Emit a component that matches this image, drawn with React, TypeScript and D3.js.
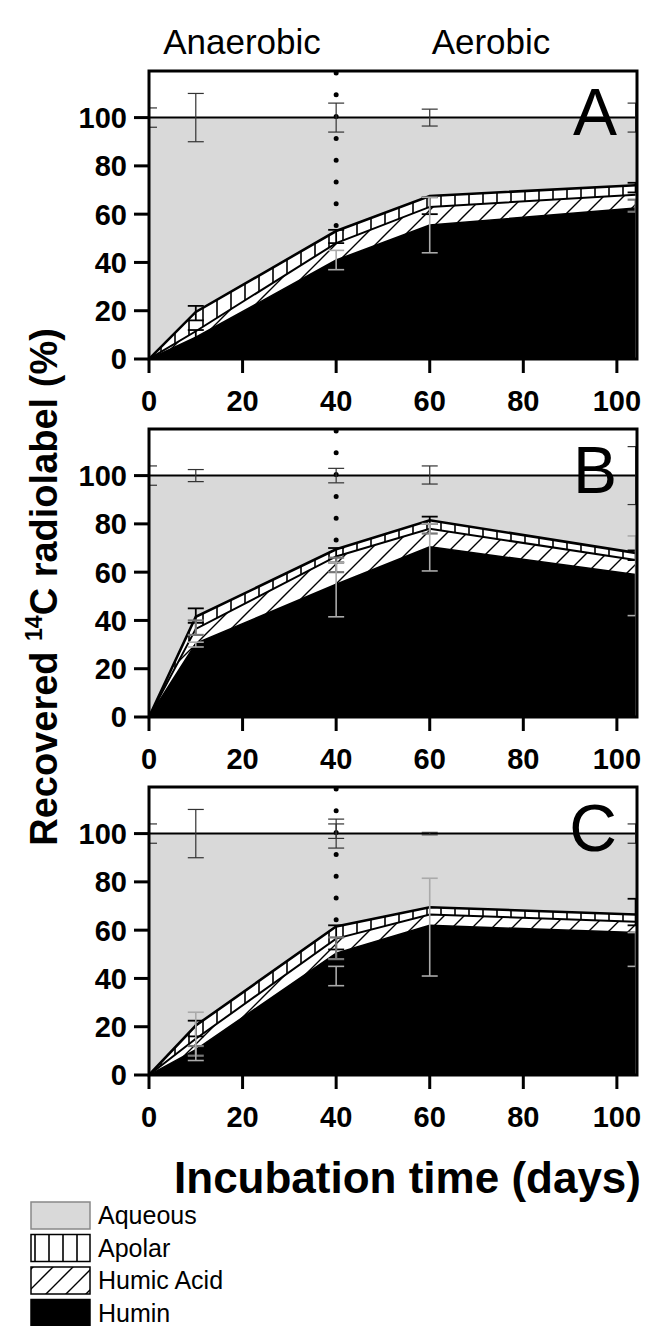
import React, { useRef, useEffect } from "react";
import * as d3 from "d3";

// sampling days (last one sits on the right frame edge)
const days = [0, 10, 40, 60, 104];
const panelNames = ["A", "B", "C"];
const xTicks = [0, 20, 40, 60, 80, 100];
const yTicks = [0, 20, 40, 60, 80, 100];
const legendNames = ["Aqueous", "Apolar", "Humic Acid", "Humin"];

// cumulative tops of each fraction (% of recovered label)
const huminA = [0, 9, 41, 55.5, 62.5];
const humicA = [0, 11.5, 48, 63, 68];
const apolarA = [0, 19.5, 53, 67.5, 72];

const huminB = [0, 30.5, 55, 70.5, 59];
const humicB = [0, 36.5, 66.5, 78, 65];
const apolarB = [0, 41.5, 69.5, 81.5, 68];

const huminC = [0, 10.5, 50.5, 62, 59];
const humicC = [0, 15, 56.5, 66.5, 63.5];
const apolarC = [0, 20.5, 61.5, 69.5, 66.5];

// error bars: [day, low, high, tone]  tone 0 = total, 1 = apolar, 2 = humic, 3 = humin
const errA = [
  [0, 96, 104, 0], [10, 90, 110, 0], [40, 94, 106, 0], [60, 96.5, 103.5, 0], [104, 94, 106, 0],
  [10, 16, 22, 1], [40, 48, 53.5, 1], [60, 60, 67, 1], [104, 69, 73, 1],
  [10, 5.5, 12, 1], [40, 37, 45, 3], [60, 44, 67, 3], [104, 61, 66, 2],
];
const errB = [
  [0, 96, 104, 0], [10, 97.5, 102.5, 0], [40, 97, 103, 0], [60, 96.5, 104, 0], [104, 88, 112, 0],
  [10, 39, 45, 1], [40, 64, 70, 1], [60, 80, 83, 1], [104, 65, 69, 1],
  [10, 34, 40, 2], [40, 60, 66, 2], [60, 76, 80, 2],
  [10, 29, 31, 3], [40, 41.5, 64, 3], [60, 60.5, 80, 3], [104, 42, 75, 3],
];
const errC = [
  [0, 96, 104, 0], [10, 90, 110, 0], [40, 94, 106, 0], [40, 98, 104, 0], [60, 99.5, 100.5, 0], [104, 96, 104, 0],
  [10, 16, 22.5, 1], [40, 52, 62, 1], [104, 62, 73, 1],
  [10, 8, 12, 2], [40, 48, 57, 2],
  [10, 6, 26, 3], [40, 37, 45, 3], [60, 41, 81.5, 3], [104, 45, 59, 3],
];

const panels = [
  { humin: huminA, humic: humicA, apolar: apolarA, err: errA },
  { humin: huminB, humic: humicB, apolar: apolarB, err: errB },
  { humin: huminC, humic: humicC, apolar: apolarC, err: errC },
];

const W = 646;
const H = 1326;
const left = 149;
const right = 637;
const firstTop = 71;
const panelStep = 358;
const plotH = 288;
const FONT = "'Liberation Sans', Arial, sans-serif";
const GREY = "#d9d9d9";
const toneColor = ["#333", "#000", "#777", "#aaa"];
const toneWidth = [1.2, 1.8, 2.2, 1.6];

function App() {
  const svgRef = useRef(null);

  useEffect(() => {
    const svg = d3.select(svgRef.current);
    svg.selectAll("*").remove();

    const defs = svg.append("defs");
    const vert = defs.append("pattern").attr("id", "vhatch")
      .attr("patternUnits", "userSpaceOnUse").attr("width", 14).attr("height", 14);
    vert.append("rect").attr("width", 14).attr("height", 14).attr("fill", "#fff");
    vert.append("line").attr("x1", 7).attr("x2", 7).attr("y1", 0).attr("y2", 14)
      .attr("stroke", "#000").attr("stroke-width", 1.6);
    const diag = defs.append("pattern").attr("id", "dhatch")
      .attr("patternUnits", "userSpaceOnUse").attr("width", 20).attr("height", 20);
    diag.append("rect").attr("width", 20).attr("height", 20).attr("fill", "#fff");
    diag.append("path").attr("d", "M-5,5 L5,-5 M0,20 L20,0 M15,25 L25,15")
      .attr("stroke", "#000").attr("stroke-width", 1.4);

    const x = d3.scaleLinear().domain([0, 104.3]).range([left, right]);

    panels.forEach((p, i) => {
      const top = firstTop + i * panelStep;
      const y = d3.scaleLinear().domain([0, 119.3]).range([top + plotH, top]);
      const g = svg.append("g");

      defs.append("clipPath").attr("id", `clip${i}`)
        .append("rect").attr("x", left).attr("y", top)
        .attr("width", right - left).attr("height", plotH);
      const plot = g.append("g").attr("clip-path", `url(#clip${i})`);

      plot.append("rect").attr("x", left).attr("y", top)
        .attr("width", right - left).attr("height", plotH).attr("fill", "#fff");
      plot.append("rect").attr("x", left).attr("y", y(100))
        .attr("width", right - left).attr("height", y(0) - y(100)).attr("fill", GREY);

      const rows = days.map((d, k) => ({ d, hu: p.humin[k], ha: p.humic[k], ap: p.apolar[k] }));
      const band = (lo, hi) =>
        d3.area().x(r => x(r.d)).y0(r => y(lo(r))).y1(r => y(hi(r)))(rows);
      const edge = f => d3.line().x(r => x(r.d)).y(r => y(f(r)))(rows);

      plot.append("path").attr("d", band(() => 0, r => r.hu)).attr("fill", "#000");
      plot.append("path").attr("d", band(r => r.hu, r => r.ha)).attr("fill", "url(#dhatch)");
      plot.append("path").attr("d", band(r => r.ha, r => r.ap)).attr("fill", "url(#vhatch)");
      plot.append("path").attr("d", edge(r => r.hu)).attr("fill", "none").attr("stroke", "#000").attr("stroke-width", 1.5);
      plot.append("path").attr("d", edge(r => r.ha)).attr("fill", "none").attr("stroke", "#000").attr("stroke-width", 2);
      plot.append("path").attr("d", edge(r => r.ap)).attr("fill", "none").attr("stroke", "#000").attr("stroke-width", 2.6);

      plot.append("line").attr("x1", left).attr("x2", right)
        .attr("y1", y(100)).attr("y2", y(100)).attr("stroke", "#000").attr("stroke-width", 2);

      // dotted phase divider at day 40
      const k40 = days.indexOf(40);
      plot.append("line").attr("x1", x(40)).attr("x2", x(40))
        .attr("y1", top + 2).attr("y2", y(p.humic[k40]))
        .attr("stroke", "#000").attr("stroke-width", 5)
        .attr("stroke-linecap", "round").attr("stroke-dasharray", "0 21.8");

      // error bars
      p.err.forEach(([d, lo, hi, t]) => {
        const eg = plot.append("g").attr("stroke", toneColor[t]).attr("stroke-width", toneWidth[t]);
        const cx = x(d);
        eg.append("line").attr("x1", cx).attr("x2", cx).attr("y1", y(lo)).attr("y2", y(hi));
        [lo, hi].forEach(v => eg.append("line").attr("x1", cx - 8).attr("x2", cx + 8)
          .attr("y1", y(v)).attr("y2", y(v)));
      });

      // frame
      g.append("rect").attr("x", left).attr("y", top).attr("width", right - left)
        .attr("height", plotH).attr("fill", "none").attr("stroke", "#000").attr("stroke-width", 3);

      // y axis
      yTicks.forEach(v => {
        g.append("line").attr("x1", left - 15).attr("x2", left).attr("y1", y(v)).attr("y2", y(v))
          .attr("stroke", "#000").attr("stroke-width", 3);
        g.append("text").attr("x", left - 22).attr("y", y(v)).attr("dy", "0.36em")
          .attr("text-anchor", "end").attr("font-family", FONT).attr("font-weight", "bold")
          .attr("font-size", 29).text(v);
      });
      // x axis
      xTicks.forEach(v => {
        g.append("line").attr("x1", x(v)).attr("x2", x(v)).attr("y1", top + plotH).attr("y2", top + plotH + 14)
          .attr("stroke", "#000").attr("stroke-width", 3);
        g.append("text").attr("x", x(v)).attr("y", top + plotH + 52)
          .attr("text-anchor", "middle").attr("font-family", FONT).attr("font-weight", "bold")
          .attr("font-size", 29).text(v);
      });

      g.append("text").attr("x", 617).attr("y", top + 64).attr("text-anchor", "end")
        .attr("font-family", FONT).attr("font-size", 66).text(panelNames[i]);
    });

    // phase labels
    svg.append("text").attr("x", 242).attr("y", 54).attr("text-anchor", "middle")
      .attr("font-family", FONT).attr("font-size", 35).text("Anaerobic");
    svg.append("text").attr("x", 491).attr("y", 54).attr("text-anchor", "middle")
      .attr("font-family", FONT).attr("font-size", 35).text("Aerobic");

    // axis titles
    const yt = svg.append("text").attr("transform", "translate(57,587) rotate(-90)")
      .attr("text-anchor", "middle").attr("font-family", FONT).attr("font-weight", "bold")
      .attr("font-size", 38);
    yt.append("tspan").text("Recovered ");
    yt.append("tspan").attr("font-size", 23).attr("dy", -15).text("14");
    yt.append("tspan").attr("dy", 15).text("C radiolabel (%)");

    svg.append("text").attr("x", 641).attr("y", 1193).attr("text-anchor", "end")
      .attr("font-family", FONT).attr("font-weight", "bold").attr("font-size", 44)
      .text("Incubation time (days)");

    // legend
    const fills = [GREY, "url(#vhatch)", "url(#dhatch)", "#000"];
    legendNames.forEach((name, k) => {
      const ly = 1202 + k * 32.5;
      svg.append("rect").attr("x", 31).attr("y", ly).attr("width", 59).attr("height", 27)
        .attr("fill", fills[k]).attr("stroke", k === 0 ? "#888" : "#000").attr("stroke-width", 1.5);
      svg.append("text").attr("x", 98).attr("y", ly + 22).attr("font-family", FONT)
        .attr("font-size", 25).text(name);
    });
  }, []);

  return (
    <svg ref={svgRef} width={W} height={H}
      style={{ position: "absolute", left: 0, top: 0, background: "#fff" }} />
  );
}

export default App;
